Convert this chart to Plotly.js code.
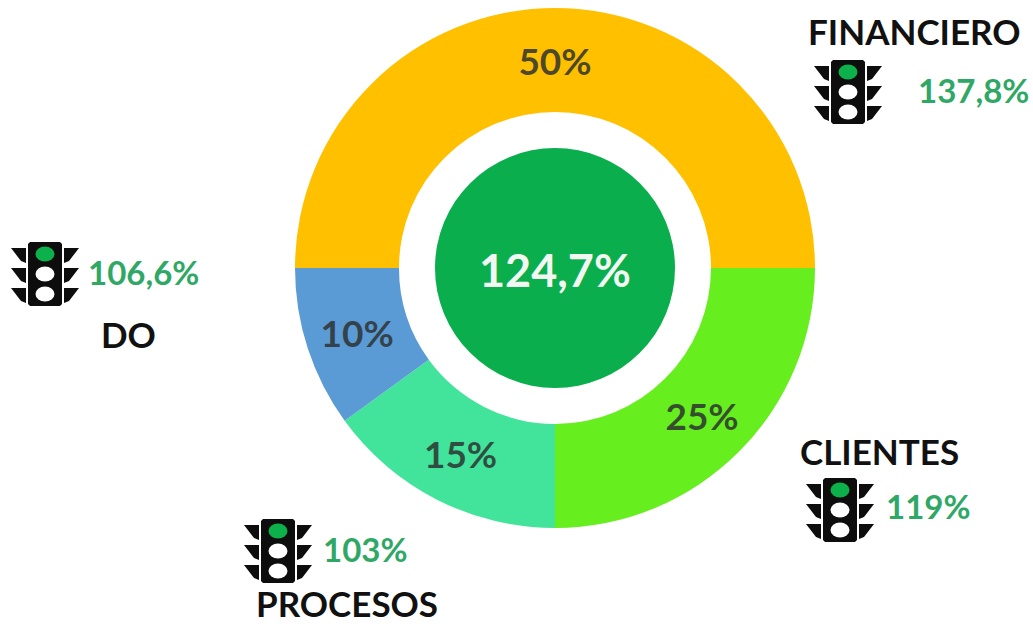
<!DOCTYPE html>
<html>
<head>
<meta charset="utf-8">
<script src="https://cdn.plot.ly/plotly-3.0.1.min.js"></script>
<style>html,body{margin:0;padding:0;background:#fff}#c{width:1033px;height:624px}</style>
</head>
<body>
<div id="c"></div>
<script>
var categories = ['FINANCIERO','CLIENTES','PROCESOS','DO'];
var weights = [50,25,15,10];
var colors = ['#FFC000','#66EE1E','#42E39A','#5B9BD5'];
var results = ['137,8%','119%','103%','106,6%'];
var overall = '124,7%';

var W=1033,H=624;
function px(x){return x/W;}
function py(y){return 1-y/H;}
var cx=555,cy=268,R=260;

function P(pts){return 'M'+pts.map(function(p){return px(p[0])+','+py(p[1]);}).join('L')+'Z';}
function ell(x,y,rx,ry,fill){return {type:'circle',xref:'paper',yref:'paper',x0:px(x-rx),x1:px(x+rx),y0:py(y+ry),y1:py(y-ry),fillcolor:fill,line:{width:0},layer:'above'};}
function path(d,fill){return {type:'path',xref:'paper',yref:'paper',path:d,fillcolor:fill,line:{width:0},layer:'above'};}

function light(x,y){
  var s=[];
  var k='#0d0d0d';
  s.push(path(P([[x-15,y-32],[x+15,y-32],[x+17,y-30],[x+17,y+30],[x+15,y+32],[x-15,y+32],[x-17,y+30],[x-17,y-30]]),k));
  [-26,-6,14].forEach(function(o){
    s.push(path(P([[x-34,y+o],[x-19,y+o],[x-19,y+o+15],[x-24,y+o+13]]),k));
    s.push(path(P([[x+34,y+o],[x+19,y+o],[x+19,y+o+15],[x+24,y+o+13]]),k));
  });
  s.push(ell(x,y-20,9.5,7.5,'#0DB14B'));
  s.push(ell(x,y,9.5,7.5,'#ffffff'));
  s.push(ell(x,y+20,9.5,7.5,'#ffffff'));
  return s;
}

var shapes=[ell(cx,cy,120,120,'#0AAE4C')]
  .concat(light(848,92)).concat(light(840,510)).concat(light(278,551)).concat(light(45,274));

var F='Lato, "Open Sans", sans-serif';
function note(x,y,t,size,color){return {xref:'paper',yref:'paper',x:px(x),y:py(y),text:'<b>'+t+'</b>',showarrow:false,xanchor:'center',yanchor:'middle',font:{family:F,size:size,color:color}};}
var green='#2FA866';
var annotations=[
  note(914,31,categories[0],35,'#111111'),
  note(973,90,results[0],33,green),
  note(879,451,categories[1],35,'#111111'),
  note(928,506,results[1],33,green),
  note(347,603,categories[2],35,'#111111'),
  note(365,549,results[2],33,green),
  note(128,334,categories[3],35,'#111111'),
  note(143,272,results[3],33,green),
  note(cx,270,overall,45,'#F2F7F2')
];

Plotly.newPlot('c',[{
  type:'pie',
  labels:categories,
  values:weights,
  sort:false,
  direction:'clockwise',
  rotation:-90,
  hole:0.6,
  marker:{colors:colors,line:{width:0}},
  textinfo:'percent',
  texttemplate:'<b>%{percent:.0%}</b>',
  textposition:'inside',
  insidetextorientation:'horizontal',
  insidetextfont:{family:F,size:37,color:'rgba(45,50,50,0.85)'},
  hoverinfo:'none',
  domain:{x:[px(cx-R),px(cx+R)],y:[py(cy+R),py(cy-R)]}
}],{
  width:W,height:H,
  margin:{l:0,r:0,t:0,b:0},
  paper_bgcolor:'#fff',
  showlegend:false,
  shapes:shapes,
  annotations:annotations
},{displayModeBar:false,staticPlot:true});
</script>
</body>
</html>
